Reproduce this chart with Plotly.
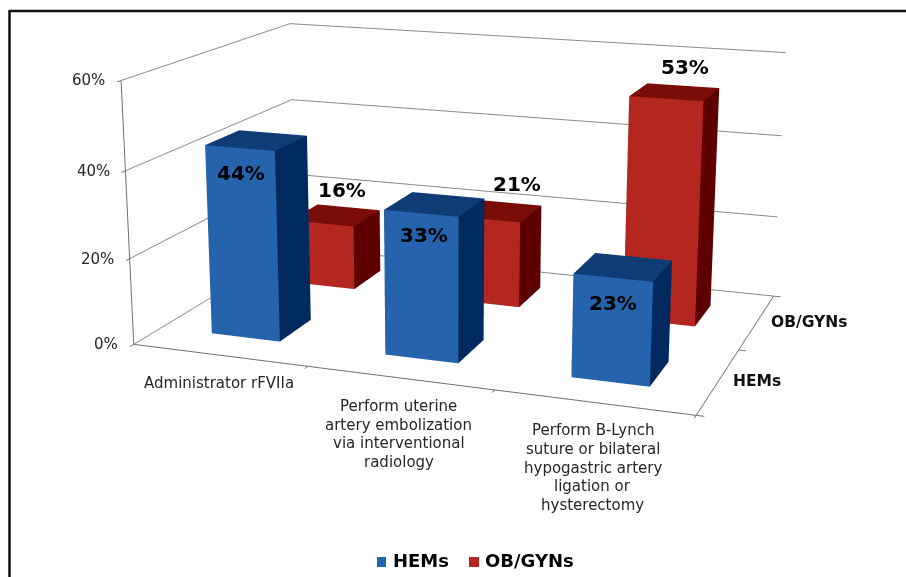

import plotly.graph_objects as go

# Chart data
CATEGORIES = [["Administrator rFVIIa"],
              ["Perform uterine", "artery embolization", "via interventional", "radiology"],
              ["Perform B-Lynch", "suture or bilateral", "hypogastric artery", "ligation or", "hysterectomy"]]
SERIES = ["HEMs", "OB/GYNs"]
HEMS = [44, 33, 23]
OBGYNS = [16, 21, 53]
PERCENT_TICKS = [0, 20, 40, 60]

# Face colours per series: front, top, side
BLUE = ("#2563AC", "#0F3C75", "#002A5F")
RED = ("#B32720", "#7A0D08", "#5E0000")
FONT = "DejaVu Sans"

# The page is taller than the window so the 45-degree camera gets a long focal
# length; it is pulled up by PAGE_LIFT to keep the optical axis near the chart.
WIDTH, HEIGHT, PAGE_LIFT = 906, 1500, 517
BAR_WIDTH, BAR_DEPTH = 0.40, 0.393
OPTICAL_X = 456.16

EYE = (2.2478, -6.3449, 1.6897)
LOOK = (-0.3281, 0.9071, -0.2638)
UP = (-0.0911, 0.2475, 0.9646)

# Offsets of the value labels from the centre of each bar top, in pixels
LABEL_OFFSETS = [[(-16, -33), (-11, -31), (-10, -36)],
                 [(7, 25), (20, 27), (10, 25)]]
CATEGORY_DROP, CATEGORY_LEADING = 28, 18.7


def px(x):
    return x / WIDTH


def py(y):
    return 1 - (y + PAGE_LIFT) / HEIGHT


fig = go.Figure()

# Bars as boxes with one flat colour per face
for s, (values, (front, top, side)) in enumerate(zip((HEMS, OBGYNS), (BLUE, RED))):
    for c, v in enumerate(values):
        x0, x1 = c + .5 - BAR_WIDTH / 2, c + .5 + BAR_WIDTH / 2
        y0, y1 = s + .5 - BAR_DEPTH / 2, s + .5 + BAR_DEPTH / 2
        fig.add_trace(go.Mesh3d(
            x=[x0, x1, x1, x0, x0, x1, x1, x0],
            y=[y0, y0, y1, y1, y0, y0, y1, y1],
            z=[0, 0, 0, 0, v, v, v, v],
            i=[0, 0, 1, 1, 4, 4, 2, 2, 3, 3, 0, 0],
            j=[1, 5, 2, 6, 5, 6, 3, 7, 0, 4, 1, 2],
            k=[5, 4, 6, 5, 6, 7, 7, 6, 4, 7, 2, 3],
            flatshading=True,
            facecolor=[front, front, side, side, top, top] + [side] * 6,
            lighting=dict(ambient=1, diffuse=0, specular=0, roughness=1, fresnel=0),
            hoverinfo="skip", showlegend=False, name=SERIES[s]))

# Text tied to the scene's data coordinates
notes = []
for v in PERCENT_TICKS:
    notes.append(dict(x=0, y=0, z=v, text=f"{v}%", showarrow=False, xanchor="right",
                      yanchor="middle", xshift=-14,
                      font=dict(family=FONT, size=15, color="#262626")))
for i, lines in enumerate(CATEGORIES):
    for j, line in enumerate(lines):
        notes.append(dict(x=i + .5, y=0, z=0, text=line, showarrow=False, xanchor="center",
                          yanchor="middle", xshift=-1,
                          yshift=-(CATEGORY_DROP + j * CATEGORY_LEADING),
                          font=dict(family=FONT, size=15, color="#262626")))
for i, label in enumerate(SERIES):
    notes.append(dict(x=3, y=i + .5, z=0, text=f"<b>{label}</b>", showarrow=False,
                      xanchor="left", yanchor="middle", xshift=12, yshift=0,
                      font=dict(family=FONT, size=15.5, color="#111111")))
for s, values in enumerate((HEMS, OBGYNS)):
    for c, v in enumerate(values):
        dx, dy = LABEL_OFFSETS[s][c]
        notes.append(dict(x=c + .5, y=s + .5, z=v, text=f"<b>{v}%</b>", showarrow=False,
                          xanchor="center", yanchor="middle", xshift=dx, yshift=dy,
                          font=dict(family=FONT, size=20, color="black")))

axis = dict(showbackground=False, showspikes=False, zeroline=False, title="",
            showticklabels=False, showline=True, linecolor="#6e6e6e", linewidth=2,
            ticks="outside", ticklen=6, tickcolor="#6e6e6e", tickwidth=2)

fig.update_layout(
    width=WIDTH, height=HEIGHT, margin=dict(l=0, r=0, t=0, b=0),
    showlegend=False, paper_bgcolor="white",
    scene=dict(
        aspectmode="manual", aspectratio=dict(x=2.1382, y=1.4320, z=1),
        annotations=notes,
        xaxis=dict(range=[0, 3], tickvals=[0, 1, 2, 3], showgrid=False, **axis),
        yaxis=dict(range=[0, 2], tickvals=[0, 1, 2], showgrid=False, **axis),
        zaxis=dict(range=[0, 60], tickvals=PERCENT_TICKS, showgrid=True,
                   gridcolor="#8a8a8a", gridwidth=2, **axis),
        camera=dict(
            eye=dict(x=EYE[0], y=EYE[1], z=EYE[2]),
            center=dict(x=EYE[0] + 2 * LOOK[0], y=EYE[1] + 2 * LOOK[1], z=EYE[2] + 2 * LOOK[2]),
            up=dict(x=UP[0], y=UP[1], z=UP[2]),
            projection=dict(type="perspective")),
        domain=dict(x=[(2 * OPTICAL_X - WIDTH) / WIDTH, 1], y=[0, 1])))

# Frame along the left and top of the figure
fig.add_shape(type="line", xref="paper", yref="paper", x0=px(9.5), x1=px(9.5),
              y0=py(11), y1=py(600), line=dict(color="#111111", width=2.5))
fig.add_shape(type="line", xref="paper", yref="paper", x0=px(8.5), x1=px(WIDTH),
              y0=py(11), y1=py(11), line=dict(color="#111111", width=2.5))

# Legend row
for name, colour, x0, x1, tx in ((SERIES[0], BLUE[0], 377, 386, 391),
                                 (SERIES[1], RED[0], 469, 479, 483)):
    fig.add_shape(type="rect", xref="paper", yref="paper", x0=px(x0), x1=px(x1),
                  y0=py(557), y1=py(567), fillcolor=colour, line=dict(width=0))
    fig.add_annotation(xref="paper", yref="paper", x=px(tx), y=py(560.5), text=f"<b>{name}</b>",
                       showarrow=False, xanchor="left", yanchor="middle",
                       font=dict(family=FONT, size=18, color="black"))

fig.write_html("out.html", post_script=(
    "var g=document.getElementById('{plot_id}');"
    f"g.style.marginTop='-{PAGE_LIFT}px';"
    "document.documentElement.style.overflow='hidden';"
    "document.body.style.overflow='hidden';"))
